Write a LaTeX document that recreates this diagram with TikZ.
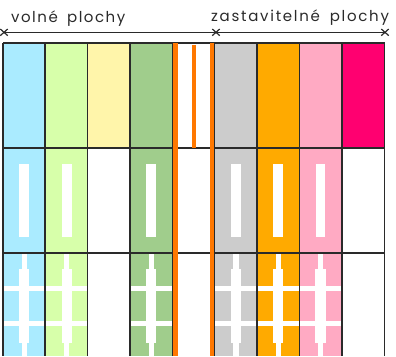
\documentclass[tikz,border=0pt]{standalone}
\usepackage{fontspec}
\setmainfont{Poppins}[LetterSpace=10,WordSpace=1.7]
\newfontfamily\widerlabel{Poppins}[LetterSpace=11.5,WordSpace=1.7]
\definecolor{c1}{HTML}{AAEBFF}
\definecolor{c2}{HTML}{D7FFAA}
\definecolor{c3}{HTML}{FFF5AA}
\definecolor{c4}{HTML}{A0CD8C}
\definecolor{c6}{HTML}{CCCCCC}
\definecolor{c7}{HTML}{FFAA00}
\definecolor{c8}{HTML}{FFAAC3}
\definecolor{c9}{HTML}{FF0070}
\definecolor{or}{HTML}{FF7800}
\definecolor{ln}{HTML}{2A2A2A}
\begin{document}
\begin{tikzpicture}[x=1pt,y=-1pt,
  grid/.style={draw=ln,line width=1.2pt},
  lbl/.style={font=\fontsize{15}{17}\selectfont,anchor=base west,inner sep=0pt,text=ln},
  road/.style={fill=white,draw=none}]
\useasboundingbox (0,0) rectangle (396,356);
% fills
\foreach \x/\c in {3/c1,45/c2,130/c4,214.5/c6,257/c7,299.5/c8}{
  \fill[\c] (\x,43) rectangle ++(42.5,313);
}
\fill[c3] (87.5,43) rectangle (130,148);
\fill[c9] (342,43) rectangle (384.5,148);
% white strips, per column
\foreach \m in {24.2,66.7,151.3,236,278.3,320.5}{
  \fill[road] (\m-4.9,164) rectangle (\m+4.9,237);
  \fill[road] (\m-2.7,253) rectangle (\m+2.7,356);
  \fill[road] (\m-5.1,269.3) rectangle (\m+5.1,343);
  \fill[road] (\m-21,285.7) rectangle (\m+21,290.7);
  \fill[road] (\m-21,321) rectangle (\m+21,326);
}
% grid
\foreach \x in {3,45,87.5,130,172.4,214.5,257,299.5,342,384.5}{
  \draw[grid] (\x,43) -- (\x,356);
}
\foreach \y in {43,148,253}{
  \draw[grid] (3,\y) -- (384.5,\y);
}
% orange
\fill[or] (173.4,43) rectangle (177.8,356);
\fill[or] (191.5,44.5) rectangle (195.5,148);
\fill[or] (209.5,43) rectangle (213.8,356);
% dimension line
\coordinate (da) at (4,32.3);
\coordinate (db) at (216,32.3);
\coordinate (dc) at (385,32.3);
\draw[ln,line width=1.1pt] (da) -- (dc);
\foreach \p in {da,db,dc}{
  \draw[ln,line width=1.2pt] ([shift={(-3.7,-3.3)}]\p) -- ([shift={(3.7,3.3)}]\p);
  \draw[ln,line width=1.2pt] ([shift={(-3.7,3.3)}]\p) -- ([shift={(3.7,-3.3)}]\p);
}
\node[lbl] (t1) at (11,23) {volné plochy};
\node[lbl] (t2) at (211,21.5) {\widerlabel zastavitelné plochy};
\end{tikzpicture}
\end{document}
